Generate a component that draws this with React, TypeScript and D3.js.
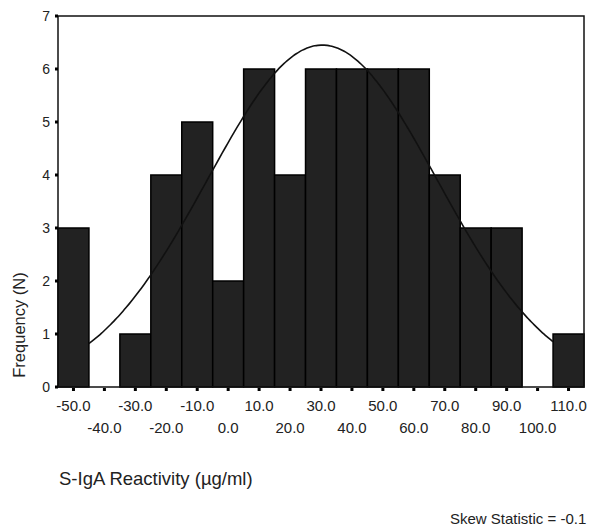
import { line, range, scaleLinear, curveBasis } from 'd3'

// histogram bins (centres) and counts
const binCenters = [-50, -40, -30, -20, -10, 0, 10, 20, 30, 40, 50, 60, 70, 80, 90, 100, 110]
const counts = [3, 0, 1, 4, 5, 2, 6, 4, 6, 6, 6, 6, 4, 3, 3, 0, 1]
const yTicks = [0, 1, 2, 3, 4, 5, 6, 7]
const binWidth = 10

// fitted normal curve parameters
const curveMean = 30.4
const curveSd = 37.1
const curveRange = [-45, 105]

const W = 591
const H = 530
const margin = { left: 58, right: 7, top: 16, bottom: 143 }

export default function App() {
  const x = scaleLinear().domain([-55, 115]).range([margin.left, W - margin.right])
  const y = scaleLinear().domain([0, 7]).range([H - margin.bottom, margin.top])
  const total = counts.reduce((a, b) => a + b, 0)

  const density = (v: number) =>
    ((total * binWidth) / (curveSd * Math.sqrt(2 * Math.PI))) *
    Math.exp(-((v - curveMean) ** 2) / (2 * curveSd * curveSd))

  const curvePts = range(curveRange[0], curveRange[1] + 0.01, 1).map((v) => [v, density(v)] as [number, number])
  const path = line<[number, number]>()
    .x((d) => x(d[0]))
    .y((d) => y(d[1]))
    .curve(curveBasis)(curvePts)

  const font = 'Liberation Sans, Arial, sans-serif'
  const y0 = y(0)

  return (
    <div style={{ position: 'absolute', left: 0, top: 0 }}>
      <svg width={W} height={H} style={{ display: 'block', background: '#fff' }} fontFamily={font}>
        {binCenters.map((c, i) =>
          counts[i] > 0 ? (
            <rect
              key={c}
              x={x(c - binWidth / 2)}
              y={y(counts[i])}
              width={x(c + binWidth / 2) - x(c - binWidth / 2)}
              height={y0 - y(counts[i])}
              fill="#222"
              stroke="#000"
              strokeWidth={1.5}
            />
          ) : null
        )}
        <path d={path ?? ''} fill="none" stroke="#111" strokeWidth={1.6} />
        <rect
          x={margin.left}
          y={margin.top}
          width={W - margin.right - margin.left}
          height={y0 - margin.top}
          fill="none"
          stroke="#111"
          strokeWidth={1.5}
        />
        {/* y axis */}
        {yTicks.map((t) => (
          <g key={t}>
            <rect x={margin.left - 3} y={y(t) - 1.5} width={3} height={3} fill="#000" />
            <text x={margin.left - 8} y={y(t) + 5} fontSize={14} textAnchor="end" fill="#222">
              {t}
            </text>
          </g>
        ))}
        {/* x axis */}
        {binCenters.map((c, i) => (
          <g key={c}>
            <rect x={x(c) - 1.5} y={y0 + 1} width={3} height={3} fill="#000" />
            <text
              x={x(c)}
              y={i % 2 === 0 ? y0 + 24 : y0 + 46}
              fontSize={15}
              textAnchor="middle"
              fill="#222"
            >
              {c.toFixed(1)}
            </text>
          </g>
        ))}
        <text transform="translate(25,325) rotate(-90)" fontSize={16.5} textAnchor="middle" fill="#222">
          Frequency (N)
        </text>
        <text x={59} y={485} fontSize={18.5} fill="#222">
          S-IgA Reactivity (µg/ml)
        </text>
        <text x={450} y={524} fontSize={15} fill="#222">
          Skew Statistic = -0.1
        </text>
      </svg>
    </div>
  )
}
